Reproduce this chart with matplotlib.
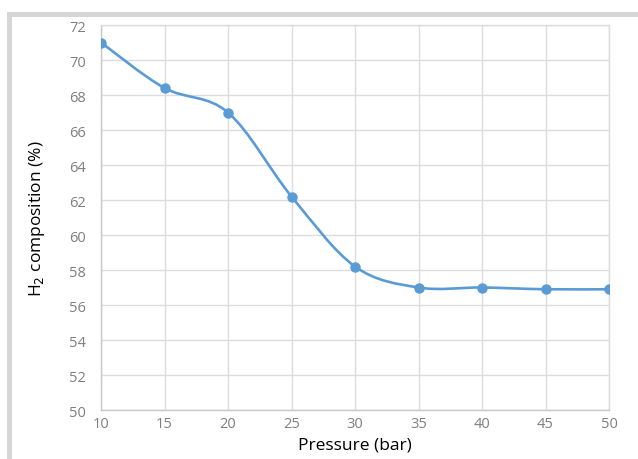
import matplotlib
matplotlib.use("Agg")
import matplotlib.pyplot as plt
from matplotlib.path import Path
from matplotlib.patches import PathPatch, Rectangle
import numpy as np

# data
pressure = [10, 15, 20, 25, 30, 35, 40, 45, 50]
h2_comp = [71.0, 68.4, 67.0, 62.2, 58.2, 57.0, 57.0, 56.9, 56.9]
xticks = [10, 15, 20, 25, 30, 35, 40, 45, 50]
yticks = [50, 52, 54, 56, 58, 60, 62, 64, 66, 68, 70, 72]

blue = "#5b9bd5"
gridc = "#dcdcdc"
tickc = "#7f7f7f"

plt.rcParams["font.family"] = ["Open Sans", "DejaVu Sans"]

fig = plt.figure(figsize=(6.38, 4.6), dpi=100)
fig.patch.set_facecolor("white")

# outer frame (top and left grey bars)
fig.patches.append(Rectangle((7 / 638, 0), 5 / 638, 1 - 13 / 460,
                             transform=fig.transFigure, color="#d6d6d6", lw=0))
fig.patches.append(Rectangle((7 / 638, 1 - 18 / 460), 1, 5 / 460,
                             transform=fig.transFigure, color="#d6d6d6", lw=0))

ax = fig.add_axes([101 / 638, 1 - 411 / 460, 508 / 638, 385 / 460])
ax.set_xlim(10, 50)
ax.set_ylim(50, 72)
ax.set_xticks(xticks)
ax.set_yticks(yticks)
ax.grid(True, color=gridc, lw=1.0)
ax.set_axisbelow(True)
for s in ax.spines.values():
    s.set_color(gridc)
    s.set_linewidth(1.0)
ax.spines["left"].set_color("#c8c8c8")
ax.spines["bottom"].set_color("#c8c8c8")
ax.tick_params(length=0, labelsize=10.5, colors=tickc)
ax.tick_params(axis="y", pad=11)
ax.tick_params(axis="x", pad=4)

# smoothed line (catmull-rom style bezier segments through the points)
pts = np.column_stack([pressure, h2_comp]).astype(float)
verts = [tuple(pts[0])]
codes = [Path.MOVETO]
n = len(pts)
for i in range(n - 1):
    p0 = pts[max(i - 1, 0)]
    p1 = pts[i]
    p2 = pts[i + 1]
    p3 = pts[min(i + 2, n - 1)]
    c1 = p1 + (p2 - p0) / 6
    c2 = p2 - (p3 - p1) / 6
    verts += [tuple(c1), tuple(c2), tuple(p2)]
    codes += [Path.CURVE4] * 3
ax.add_patch(PathPatch(Path(verts, codes), fill=False, edgecolor=blue,
                       lw=1.9, capstyle="round", zorder=3))
ax.plot(pressure, h2_comp, ls="none", marker="o", ms=6.5, color=blue, zorder=4)

ax.set_xlabel("Pressure (bar)", fontsize=12.5, color="black", labelpad=4)
ax.set_ylabel("H$_2$ composition (%)", fontsize=12.5, color="black", labelpad=16)

fig.savefig("out.png", dpi=100, facecolor="white")
